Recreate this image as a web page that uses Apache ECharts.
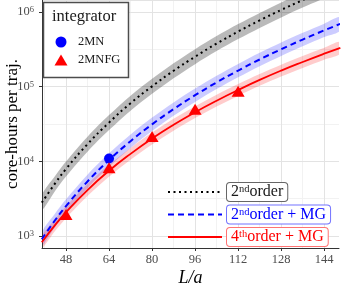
<!DOCTYPE html>
<html>
<head>
<meta charset="utf-8">
<script src="https://cdn.jsdelivr.net/npm/echarts@6/dist/echarts.min.js"></script>
<style>html,body{margin:0;padding:0;background:#fff}#c{width:341px;height:284px}</style>
</head>
<body>
<div id="c"></div>
<script>
// Fit curves (lattice size L/a vs core-hours)
const L = [39, 44, 48, 56, 64, 72, 80, 88, 96, 104, 112, 120, 128, 136, 144, 150];
const order2 = [2800, 5100, 7900, 17000, 33000, 60000, 101000, 163000, 252000, 377000, 546000, 771000, 1064000, 1440000, 1920000, 2350000];
const order2MG = [905, 1640, 2520, 5380, 10400, 18600, 31300, 50000, 76800, 114000, 164000, 231000, 317000, 427000, 567000, 693000];
const order4MG = [826, 1410, 2080, 4130, 7480, 12600, 20200, 30900, 45500, 64900, 90200, 123000, 164000, 214000, 276000, 331000];
// relative half-width of the shaded bands (multiplicative)
const order2Band = 1.26;
const order2MGBand = 1.23;
const order4MGBand = 1.2;
// measured points
const mnL = [64];
const mnCost = [10900];
const mnfgL = [48, 64, 80, 96, 112];
const mnfgCost = [1950, 8200, 21500, 50000, 87000];
// ticks
const xTicks = [48, 64, 80, 96, 112, 128, 144];
const xMinor = [40, 56, 72, 88, 104, 120, 136];
const yMinor = [3162, 31623, 316228];
const seriesNames = ['2nd order', '2nd order + MG', '4th order + MG'];
const pointNames = ['2MN', '2MNFG'];

const FONT = 'Liberation Serif';
const X_MIN = 39.08, X_MAX = 149.5, Y_MIN = 691.8, Y_MAX = 1445440;
const chart = echarts.init(document.getElementById('c'), null, {renderer: 'canvas'});

function bandSeries(vals, factor, color) {
  return {
    type: 'custom',
    silent: true,
    z: 1,
    data: L.map((l, i) => [l, vals[i]]),
    renderItem: function (params, api) {
      if (params.dataIndex !== 0) return null;
      const pts = [];
      for (let i = 0; i < L.length; i++) pts.push(api.coord([L[i], vals[i] * factor]));
      for (let i = L.length - 1; i >= 0; i--) pts.push(api.coord([L[i], vals[i] / factor]));
      const cs = params.coordSys;
      return {
        type: 'polygon',
        shape: {points: pts, smooth: 0.3},
        style: {fill: color},
        clipPath: {type: 'rect', shape: {x: cs.x, y: cs.y, width: cs.width, height: cs.height}}
      };
    }
  };
}
function lineData(vals) { return L.map((l, i) => [l, vals[i]]); }

const legendRich = {
  m: {fontFamily: FONT, fontSize: 16, lineHeight: 16, verticalAlign: 'middle'},
  s: {fontFamily: FONT, fontSize: 10.5, lineHeight: 10, verticalAlign: 'top'}
};
const minorLine = {show: true, lineStyle: {color: '#f2f2f2', width: 1}};
const majorLine = {show: true, lineStyle: {color: '#e3e3e3', width: 1}};

const option = {
  animation: false,
  backgroundColor: '#ffffff',
  grid: {left: 42, right: 2, top: 0, bottom: 36, outerBoundsMode: 'none', containLabel: false},
  xAxis: [{
    type: 'value', min: X_MIN, max: X_MAX,
    name: 'L/a', nameLocation: 'middle', nameGap: 21, nameMoveOverlap: false,
    nameTextStyle: {fontFamily: FONT, fontSize: 18, fontStyle: 'italic', color: '#000'},
    axisLine: {show: true, lineStyle: {color: '#333', width: 1}},
    axisTick: {show: true, length: 3, lineStyle: {color: '#333'}, customValues: xTicks},
    axisLabel: {margin: 5, customValues: xTicks,
      fontFamily: FONT, fontSize: 12.5, color: '#4d4d4d'},
    splitLine: majorLine, z: 1
  }, {
    type: 'value', min: X_MIN, max: X_MAX, position: 'bottom',
    axisLine: {show: false}, axisLabel: {show: false},
    axisTick: {show: false, customValues: xMinor},
    splitLine: minorLine, z: 0
  }],
  yAxis: [{
    type: 'log', logBase: 10, min: Y_MIN, max: Y_MAX,
    name: 'core-hours per traj.', nameLocation: 'middle', nameGap: 21, nameRotate: 90, nameMoveOverlap: false,
    nameTextStyle: {fontFamily: FONT, fontSize: 17, color: '#000'},
    axisLine: {show: true, lineStyle: {color: '#333', width: 1}},
    axisTick: {show: true, length: 3, lineStyle: {color: '#333'}},
    axisLabel: {margin: 8, showMinLabel: false, showMaxLabel: false,
      formatter: v => '{b|10}{s|' + Math.round(Math.log10(v)) + '}',
      rich: {
        b: {fontFamily: FONT, fontSize: 12.5, color: '#4d4d4d', lineHeight: 13, padding: [4, 0, 4, 0], verticalAlign: 'middle'},
        s: {fontFamily: FONT, fontSize: 8.5, color: '#4d4d4d', lineHeight: 9, verticalAlign: 'top'}
      }},
    splitLine: majorLine, z: 1
  }, {
    type: 'log', logBase: 10, min: Y_MIN, max: Y_MAX, position: 'left',
    axisLine: {show: false}, axisLabel: {show: false},
    axisTick: {show: false, customValues: yMinor},
    splitLine: minorLine, z: 0
  }],
  legend: [
    {
      data: pointNames, orient: 'vertical', left: 54.5, top: 35, padding: 0,
      itemWidth: 13, itemHeight: 11, itemGap: 4, selectedMode: false, z: 6,
      symbolKeepAspect: true,
      textStyle: {fontFamily: FONT, fontSize: 12.5, color: '#1a1a1a', lineHeight: 14, padding: [0, 0, 0, 5.5]}
    },
    {
      data: [
        {name: seriesNames[0], textStyle: {color: '#1a1a1a', borderColor: '#666666'}},
        {name: seriesNames[1], textStyle: {color: '#0000ff', borderColor: '#7373ff'}},
        {name: seriesNames[2], textStyle: {color: '#ff0000', borderColor: '#ff7373'}}
      ],
      orient: 'vertical', left: 167, top: 182, padding: 0,
      itemWidth: 54, itemHeight: 4, itemGap: 2.5, selectedMode: false, z: 6,
      itemStyle: {opacity: 0},
      formatter: function (name) {
        const sup = name.indexOf('4th') === 0 ? 'th' : 'nd';
        const num = name.charAt(0);
        const rest = name.slice(name.indexOf(' order'));
        return '{m|' + num + '}{s|' + sup + '}{m|' + rest.trim() + '}';
      },
      textStyle: {fontFamily: FONT, fontSize: 16, borderWidth: 1, borderRadius: 3,
        padding: [1, 4, 1, 4], backgroundColor: '#ffffff', rich: legendRich}
    }
  ],
  graphic: [
    {type: 'rect', z: 5, shape: {x: 43.5, y: 2.5, width: 85, height: 75},
      style: {fill: '#ffffff', stroke: '#4d4d4d', lineWidth: 1.5}},
    {type: 'text', z: 7, x: 52, y: 17,
      style: {text: 'integrator', fontFamily: FONT, fontSize: 16.5, fill: '#1a1a1a', verticalAlign: 'middle'}}
  ],
  series: [
    bandSeries(order2, order2Band, 'rgba(0,0,0,0.27)'),
    bandSeries(order2MG, order2MGBand, 'rgba(0,0,255,0.2)'),
    bandSeries(order4MG, order4MGBand, 'rgba(255,0,0,0.2)'),
    {name: seriesNames[0], type: 'line', data: lineData(order2), smooth: true, symbol: 'none', z: 3,
      lineStyle: {color: '#000000', width: 2, type: [2, 3.5]}, itemStyle: {color: '#000000'}},
    {name: seriesNames[1], type: 'line', data: lineData(order2MG), smooth: true, symbol: 'none', z: 3,
      lineStyle: {color: '#0000ff', width: 2, type: [6, 4]}, itemStyle: {color: '#0000ff'}},
    {name: seriesNames[2], type: 'line', data: lineData(order4MG), smooth: true, symbol: 'none', z: 3,
      lineStyle: {color: '#ff0000', width: 1.8, type: 'solid'}, itemStyle: {color: '#ff0000'}},
    {name: pointNames[0], type: 'scatter', data: mnL.map((l, i) => [l, mnCost[i]]), z: 4,
      symbol: 'circle', symbolSize: 10, itemStyle: {color: '#0000ff', opacity: 1}},
    {name: pointNames[1], type: 'scatter', data: mnfgL.map((l, i) => [l, mnfgCost[i]]), z: 4,
      symbol: 'triangle', symbolSize: [13, 11], itemStyle: {color: '#ff0000', opacity: 1}}
  ]
};
chart.setOption(option);
</script>
</body>
</html>
